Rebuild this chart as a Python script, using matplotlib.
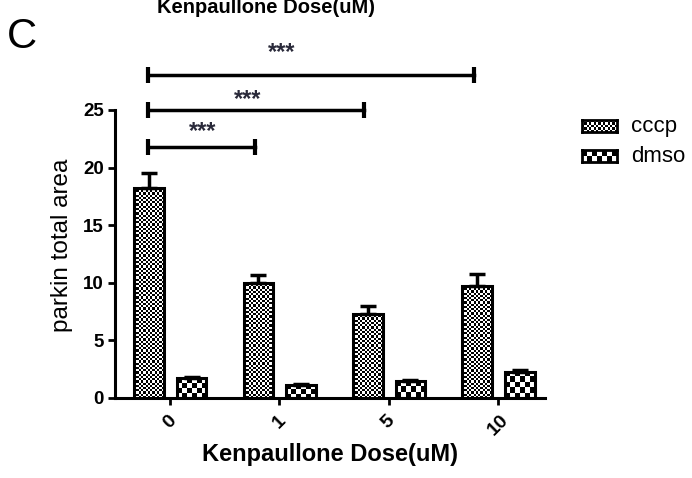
import numpy as np
import matplotlib
matplotlib.use('Agg')
import matplotlib.pyplot as plt

plt.rcParams['font.family'] = ['Liberation Sans', 'DejaVu Sans']

# data
doses = ['0', '1', '5', '10']
cccp = [18.2, 10.0, 7.3, 9.7]
cccp_err = [1.3, 0.7, 0.7, 1.1]
dmso = [1.7, 1.1, 1.5, 2.3]
dmso_err = [0.1, 0.1, 0.1, 0.1]
series = ['cccp', 'dmso']
# significance brackets: (from group, to group, label)
sig_pairs = [(0, 1, '***'), (0, 2, '***'), (0, 3, '***')]
sig_levels = [21.8, 25.0, 28.0]
sig_star_x = [0.30, 0.71, 1.02]
sig_star_y = [23.1, 25.9, 30.0]

W, H = 692, 478
fig = plt.figure(figsize=(W / 100, H / 100), dpi=100)
ax = fig.add_axes([115 / W, 1 - 398 / H, 430 / W, 288 / H])

bar_w = 0.27
offs = [-0.19, 0.20]
xlim = (-0.5, 3.43)
ylim = (0, 25)
px_x = 430 / (xlim[1] - xlim[0])   # pixels per data unit
px_y = 288 / (ylim[1] - ylim[0])


def checker(nr, nc):
    ii, jj = np.indices((max(nr, 1), max(nc, 1)))
    return (ii + jj) % 2


cells = [2.2, 5.0]   # checker cell size in pixels for cccp, dmso
x = np.arange(len(doses))
for k, (vals, errs) in enumerate([(cccp, cccp_err), (dmso, dmso_err)]):
    pos = x + offs[k]
    bars = ax.bar(pos, vals, bar_w, facecolor='none', edgecolor='black',
                  linewidth=2.2, zorder=3)
    for b, v in zip(bars, vals):
        x0 = b.get_x()
        nc = int(round(bar_w * px_x / cells[k]))
        nr = int(round(v * px_y / cells[k]))
        im = ax.imshow(checker(nr, nc), cmap='gray', extent=(x0, x0 + bar_w, 0, v),
                       aspect='auto', interpolation='nearest', zorder=2)
        im.set_clip_path(b)
    ax.errorbar(pos, vals, yerr=[np.zeros(len(vals)), errs], fmt='none',
                ecolor='black', elinewidth=2.5, capsize=6, capthick=2.5, zorder=4)

ax.set_xlim(*xlim)
ax.set_ylim(*ylim)
ax.set_yticks([0, 5, 10, 15, 20, 25])
ax.set_xticks(x)
ax.set_xticklabels(doses, rotation=45, ha='center', fontweight='bold', fontsize=14)
for t in ax.get_yticklabels():
    t.set_fontweight('bold')
    t.set_fontsize(13.5)
ax.tick_params(axis='both', width=2, length=5, direction='out', pad=3)
ax.tick_params(axis='x', pad=5)
for s in ['top', 'right']:
    ax.spines[s].set_visible(False)
for s in ['left', 'bottom']:
    ax.spines[s].set_linewidth(2.2)
ax.set_xlabel('Kenpaullone Dose(uM)', fontsize=17, fontweight='bold', labelpad=3)
ax.set_ylabel('parkin total area', fontsize=17.5)
ax.yaxis.set_label_coords(-0.097, 0.53)

# significance brackets
for (g0, g1, lab), lev, sx, sy in zip(sig_pairs, sig_levels, sig_star_x, sig_star_y):
    xs = [g0 + offs[0] - 0.01, g1 + offs[0] - 0.03]
    ax.plot(xs, [lev, lev], color='black', lw=2.5, clip_on=False, zorder=5,
            marker='|', markersize=11, mew=3)
    ax.text(sx, sy, lab, ha='center', va='center', fontsize=17, fontweight='bold',
            color='#2a2a3a', clip_on=False)

# legend drawn by hand so the swatches carry the checker pattern
leg_y = [126, 156]
for k, name in enumerate(series):
    sw = fig.add_axes([582 / W, 1 - (leg_y[k] + 6) / H, 35 / W, 12 / H])
    sw.imshow(checker(int(12 / cells[k]), int(35 / cells[k])), cmap='gray',
              aspect='auto', interpolation='nearest')
    sw.set_xticks([])
    sw.set_yticks([])
    for s in sw.spines.values():
        s.set_linewidth(2)
    fig.text(631 / W, 1 - leg_y[k] / H, name, fontsize=16, va='center', ha='left')

fig.text(266 / W, 1 - 13 / H, 'Kenpaullone Dose(uM)', fontsize=14.5, fontweight='bold',
         ha='center', va='baseline')
fig.text(7 / W, 1 - 48 / H, 'C', fontsize=30, va='baseline')

fig.savefig('out.png', dpi=100)
